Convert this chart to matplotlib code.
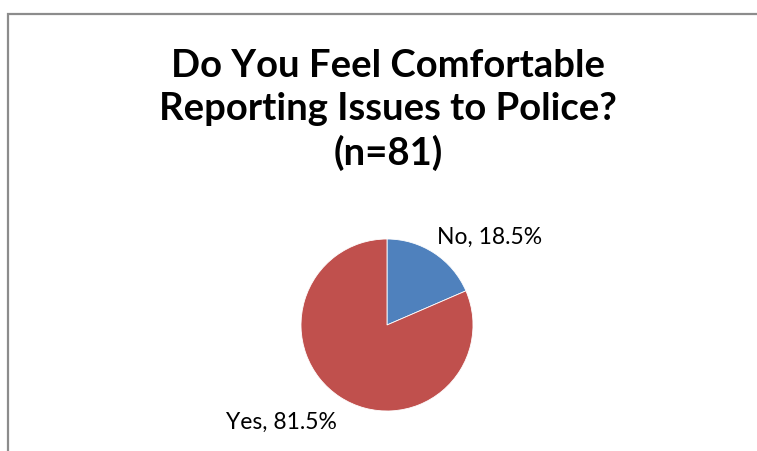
import matplotlib.pyplot as plt

# data
labels = ['No', 'Yes']
shares = [18.5, 81.5]
colors = ['#4F81BD', '#C0504D']
title = 'Do You Feel Comfortable\nReporting Issues to Police?\n(n=81)'

W, H = 757, 451
fig = plt.figure(figsize=(W / 100, H / 100), dpi=100)
ax = fig.add_axes([0, 0, 1, 1])
ax.set_xlim(0, W)
ax.set_ylim(0, H)
ax.set_aspect('equal')
ax.axis('off')

# chart frame (only top and left visible)
ax.plot([7.5, 7.5, W + 5], [0, H - 13.5, H - 13.5], color='#8c8c8c', lw=1.6,
        solid_joinstyle='miter', clip_on=False)

ax.pie(shares, colors=colors, startangle=90, counterclock=False,
       center=(387, H - 325), radius=86,
       wedgeprops=dict(linewidth=0.6, edgecolor='white'))
ax.set_xlim(0, W)
ax.set_ylim(0, H)

fam = ['Lato', 'DejaVu Sans']
ax.text(388, H - 110, title, ha='center', va='center', fontsize=27.5,
        fontweight='bold', family=fam, linespacing=1.3)

ax.text(437, H - 237, f'{labels[0]}, {shares[0]}%', ha='left', va='center',
        fontsize=16.5, family=fam)
ax.text(337, H - 422, f'{labels[1]}, {shares[1]}%', ha='right', va='center',
        fontsize=16.5, family=fam)

fig.savefig('out.png', dpi=100)
